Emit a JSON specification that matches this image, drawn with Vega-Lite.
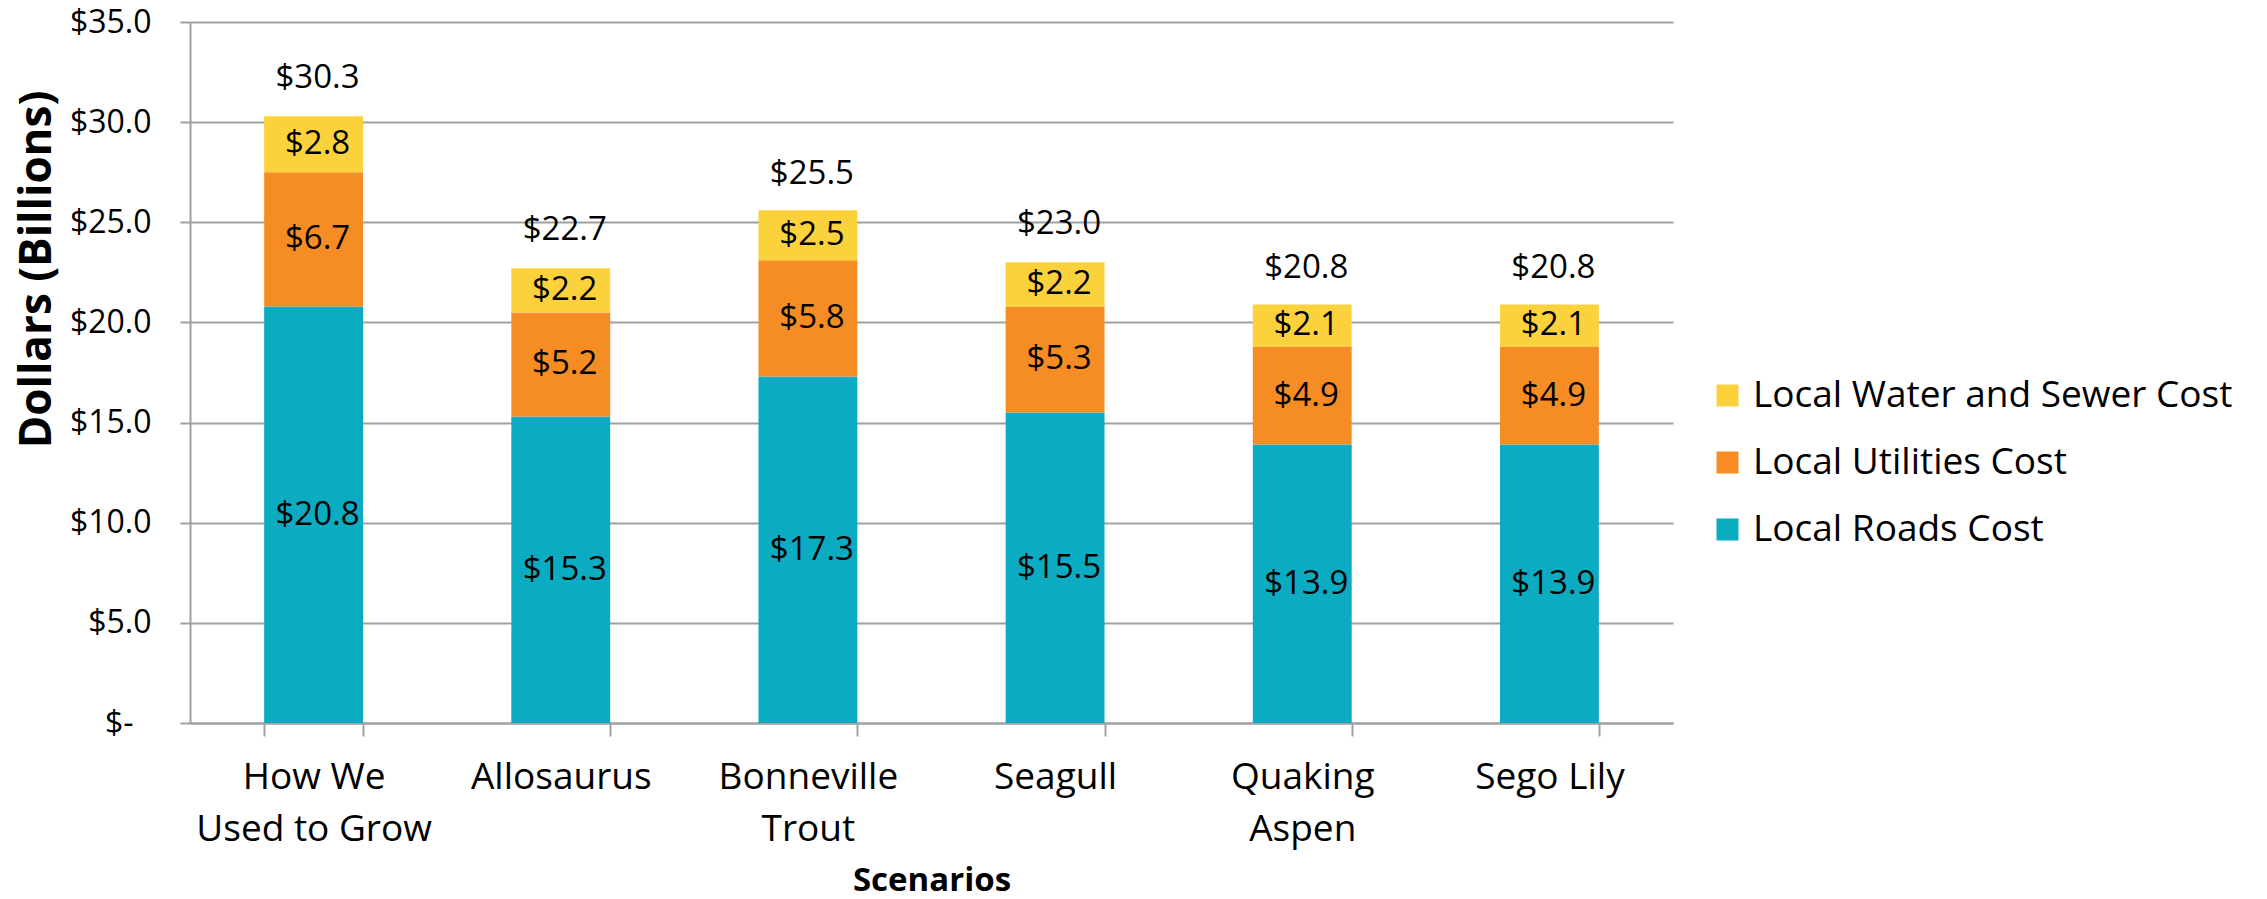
{
  "$schema": "https://vega.github.io/schema/vega-lite/v6.json",
  "autosize": {"type": "none"},
  "width": 1483,
  "height": 701,
  "padding": {"left": 190, "top": 22, "right": 594, "bottom": 176},
  "background": "white",
  "config": {
    "font": "Open Sans",
    "view": {"stroke": null},
    "axis": {"labelColor": "#000000", "titleColor": "#000000"}
  },
  "datasets": {
    "costs": [
      {"scenario": "How We Used to Grow", "category": "Local Roads Cost", "rank": 1, "value": 20.8},
      {"scenario": "How We Used to Grow", "category": "Local Utilities Cost", "rank": 2, "value": 6.7},
      {"scenario": "How We Used to Grow", "category": "Local Water and Sewer Cost", "rank": 3, "value": 2.8},
      {"scenario": "Allosaurus", "category": "Local Roads Cost", "rank": 1, "value": 15.3},
      {"scenario": "Allosaurus", "category": "Local Utilities Cost", "rank": 2, "value": 5.2},
      {"scenario": "Allosaurus", "category": "Local Water and Sewer Cost", "rank": 3, "value": 2.2},
      {"scenario": "Bonneville Trout", "category": "Local Roads Cost", "rank": 1, "value": 17.3},
      {"scenario": "Bonneville Trout", "category": "Local Utilities Cost", "rank": 2, "value": 5.8},
      {"scenario": "Bonneville Trout", "category": "Local Water and Sewer Cost", "rank": 3, "value": 2.5},
      {"scenario": "Seagull", "category": "Local Roads Cost", "rank": 1, "value": 15.5},
      {"scenario": "Seagull", "category": "Local Utilities Cost", "rank": 2, "value": 5.3},
      {"scenario": "Seagull", "category": "Local Water and Sewer Cost", "rank": 3, "value": 2.2},
      {"scenario": "Quaking Aspen", "category": "Local Roads Cost", "rank": 1, "value": 13.9},
      {"scenario": "Quaking Aspen", "category": "Local Utilities Cost", "rank": 2, "value": 4.9},
      {"scenario": "Quaking Aspen", "category": "Local Water and Sewer Cost", "rank": 3, "value": 2.1},
      {"scenario": "Sego Lily", "category": "Local Roads Cost", "rank": 1, "value": 13.9},
      {"scenario": "Sego Lily", "category": "Local Utilities Cost", "rank": 2, "value": 4.9},
      {"scenario": "Sego Lily", "category": "Local Water and Sewer Cost", "rank": 3, "value": 2.1}
    ],
    "totals": [
      {"scenario": "How We Used to Grow", "total": 30.3},
      {"scenario": "Allosaurus", "total": 22.7},
      {"scenario": "Bonneville Trout", "total": 25.5},
      {"scenario": "Seagull", "total": 23.0},
      {"scenario": "Quaking Aspen", "total": 20.8},
      {"scenario": "Sego Lily", "total": 20.8}
    ]
  },
  "layer": [
    {
      "data": {"name": "costs"},
      "mark": {"type": "bar"},
      "encoding": {
        "x": {
          "field": "scenario",
          "type": "nominal",
          "sort": null,
          "scale": {"paddingInner": 0.6, "paddingOuter": 0.3},
          "axis": {
            "title": "Scenarios",
            "titleFont": "Open Sans",
            "titleFontSize": 33,
            "titleFontWeight": "bold",
            "titleX": 741.5,
            "titleY": 157,
            "titleBaseline": "middle",
            "labelAngle": 0,
            "labelFontSize": 37,
            "labelLimit": 500,
            "labelBaseline": "top",
            "labelPadding": 23,
            "labelLineHeight": 52,
            "labelExpr": "datum.label == 'How We Used to Grow' ? ['How We', 'Used to Grow'] : datum.label == 'Bonneville Trout' ? ['Bonneville', 'Trout'] : datum.label == 'Quaking Aspen' ? ['Quaking', 'Aspen'] : datum.label",
            "domainColor": "#a0a0a0",
            "domainWidth": 2,
            "tickColor": "#a0a0a0",
            "tickWidth": 2,
            "tickSize": 13,
            "tickBand": "extent",
            "grid": false
          }
        },
        "y": {
          "field": "value",
          "type": "quantitative",
          "stack": "zero",
          "scale": {"domain": [0, 35], "nice": false},
          "axis": {
            "title": "Dollars (Billions)",
            "titleFontSize": 44,
            "titleFontWeight": "bold",
            "titleAngle": -90,
            "titleX": -153,
            "titleY": 247,
            "titleAlign": "center",
            "titleBaseline": "middle",
            "values": [0, 5, 10, 15, 20, 25, 30, 35],
            "labelExpr": "datum.value == 0 ? '$-' : '$' + format(datum.value, '.1f')",
            "labelFontSize": 32,
            "labelPadding": {"condition": {"test": "datum.value == 0", "value": 47}, "value": 29},
            "tickSize": 10,
            "tickColor": "#a0a0a0",
            "tickWidth": 2,
            "domainColor": "#a0a0a0",
            "domainWidth": 2,
            "grid": true,
            "gridColor": "#a0a0a0",
            "gridWidth": 2
          }
        },
        "color": {
          "field": "category",
          "type": "nominal",
          "scale": {
            "domain": ["Local Water and Sewer Cost", "Local Utilities Cost", "Local Roads Cost"],
            "range": ["#fcd23c", "#f68c24", "#0babc1"]
          },
          "legend": {
            "title": null,
            "orient": "none",
            "legendX": 1519,
            "legendY": 355,
            "symbolType": "square",
            "symbolSize": 484,
            "symbolStrokeWidth": 0,
            "symbolOpacity": 1,
            "labelFontSize": 37,
            "labelFont": "Open Sans",
            "labelColor": "#000000",
            "labelOffset": 7,
            "rowPadding": 29,
            "padding": 0,
            "labelLimit": 600
          }
        },
        "order": {"field": "rank", "type": "quantitative", "sort": "ascending"}
      }
    },
    {
      "data": {"name": "costs"},
      "transform": [
        {"stack": "value", "groupby": ["scenario"], "sort": [{"field": "rank", "order": "ascending"}], "as": ["lo", "hi"]},
        {"calculate": "(datum.lo + datum.hi) / 2", "as": "mid"}
      ],
      "mark": {"type": "text", "fontSize": 33, "font": "Open Sans", "color": "#000000", "baseline": "middle", "align": "center", "dx": 4},
      "encoding": {
        "x": {"field": "scenario", "type": "nominal", "sort": null},
        "y": {"field": "mid", "type": "quantitative"},
        "text": {"field": "value", "type": "quantitative", "format": "$.1f"}
      }
    },
    {
      "data": {"name": "totals"},
      "mark": {"type": "text", "fontSize": 33, "font": "Open Sans", "color": "#000000", "baseline": "middle", "align": "center", "dx": 4, "dy": -38},
      "encoding": {
        "x": {"field": "scenario", "type": "nominal", "sort": null},
        "y": {"field": "total", "type": "quantitative"},
        "text": {"field": "total", "type": "quantitative", "format": "$.1f"}
      }
    }
  ]
}
